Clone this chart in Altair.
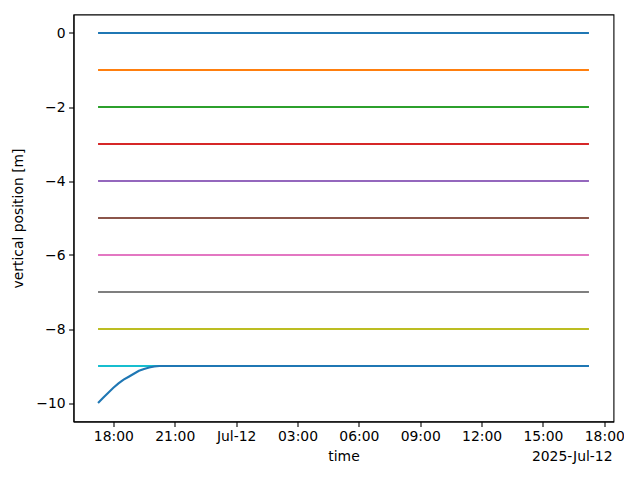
import altair as alt
import pandas as pd
from datetime import datetime, timedelta

# ---- data ----
start_time = "2025-07-11T17:15:00"
end_time = "2025-07-12T17:15:00"
levels = [0, -1, -2, -3, -4, -5, -6, -7, -8, -9]
# last series: rising from -10 to -9 during first 3 hours (15-min steps), then flat
curve_hours = [0, 0.25, 0.5, 0.75, 1.0, 1.25, 1.5, 1.75, 2.0, 2.25, 2.5, 2.75, 3.0, 24.0]
curve_values = [-10, -9.86, -9.72, -9.59, -9.47, -9.37, -9.29, -9.21, -9.13, -9.08, -9.04, -9.015, -9.0, -9.0]
tick_times = ["2025-07-11T18:00:00", "2025-07-11T21:00:00", "2025-07-12T00:00:00",
              "2025-07-12T03:00:00", "2025-07-12T06:00:00", "2025-07-12T09:00:00",
              "2025-07-12T12:00:00", "2025-07-12T15:00:00", "2025-07-12T18:00:00"]
offset_label = "2025-Jul-12"
colors = ["#1f77b4", "#ff7f0e", "#2ca02c", "#d62728", "#9467bd",
          "#8c564b", "#e377c2", "#7f7f7f", "#bcbd22", "#17becf", "#1f77b4"]

t0 = datetime.fromisoformat(start_time)
t1 = datetime.fromisoformat(end_time)

def iso(t):
    return t.strftime("%Y-%m-%dT%H:%M:%SZ")

rows = []
for i, lv in enumerate(levels):
    for t in (t0, t1):
        rows.append({"time": iso(t), "value": lv, "series": f"s{i:02d}"})
for h, v in zip(curve_hours, curve_values):
    rows.append({"time": iso(t0 + timedelta(hours=h)), "value": v, "series": "s10"})
df = pd.DataFrame(rows)
series_names = [f"s{i:02d}" for i in range(11)]

span = t1 - t0
dmin = t0 - span * 0.05
dmax = t1 + span * 0.05

def dt(t):
    return alt.DateTime(year=t.year, month=t.month, date=t.day, hours=t.hour,
                        minutes=t.minute, seconds=t.second, utc=True)

W, H = 540, 407

lines = alt.Chart(df).mark_line(strokeWidth=2.1, clip=True).encode(
    x=alt.X("time:T",
            scale=alt.Scale(type="utc", domain=[dt(dmin), dt(dmax)], nice=False),
            axis=alt.Axis(title="time",
                          values=[dt(datetime.fromisoformat(s)) for s in tick_times],
                          labelExpr="utchours(datum.value)==0 ? utcFormat(datum.value, '%b-%d') : utcFormat(datum.value, '%H:%M')",
                          titlePadding=6)),
    y=alt.Y("value:Q",
            scale=alt.Scale(domain=[-10.5, 0.5], nice=False, zero=False),
            axis=alt.Axis(title="vertical position [m]", values=[-10, -8, -6, -4, -2, 0],
                          format="d", titlePadding=10)),
    color=alt.Color("series:N", scale=alt.Scale(domain=series_names, range=colors), legend=None),
    order=alt.Order("series:N"),
)

offset = alt.Chart(pd.DataFrame({"t": [offset_label]})).mark_text(
    align="right", baseline="middle", font="DejaVu Sans", fontSize=13.9, color="black"
).encode(text="t:N", x=alt.value(W - 1), y=alt.value(H + 35))

chart = alt.layer(lines, offset).properties(
    width=W, height=H,
    autosize=alt.AutoSizeParams(type="none"),
    padding={"left": 65.5, "top": 6.5, "right": 10, "bottom": 55},
).configure_view(
    stroke="black", strokeWidth=1.1
).configure_axis(
    grid=False, labelFont="DejaVu Sans", titleFont="DejaVu Sans",
    labelFontSize=13.9, titleFontSize=13.9, titleFontWeight="normal",
    labelColor="black", titleColor="black", domainColor="black", tickColor="black",
    tickSize=4.9, tickWidth=1.1, domainWidth=1.1, labelPadding=3.5,
    labelOverlap=False,
)

chart.save("out.html", embed_options={"renderer": "svg", "actions": False})
